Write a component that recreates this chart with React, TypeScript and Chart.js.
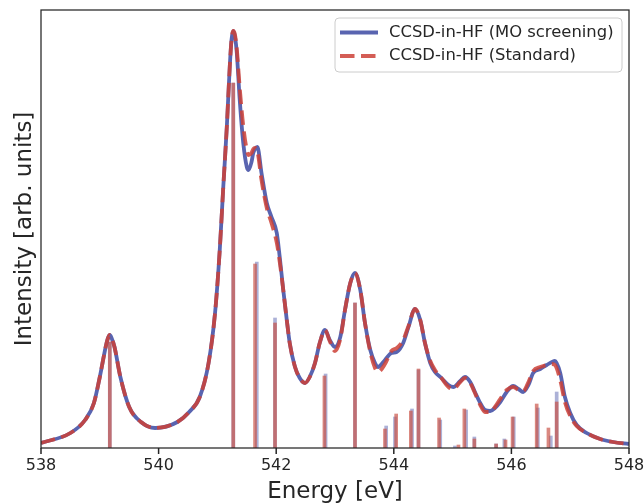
import React, { useEffect, useRef } from "react";
import { Chart, registerables } from "chart.js";

Chart.register(...registerables);

// ---- data ----
const energy = [
  538.0, 538.5, 538.75, 538.9, 539.0, 539.1, 539.14, 539.17, 539.2, 539.25, 539.35, 539.5, 539.7, 539.94,
  540.32, 540.52, 540.7, 540.85, 540.96, 541.04, 541.1, 541.16, 541.21, 541.24, 541.27, 541.3, 541.33,
  541.38, 541.44, 541.5, 541.53, 541.58, 541.61, 541.64, 541.68, 541.75, 541.84, 541.92,
  542.01, 542.06, 542.12, 542.18, 542.23, 542.32, 542.4, 542.49, 542.57, 542.66, 542.74,
  542.83, 542.91, 543.0, 543.09, 543.17, 543.26, 543.34, 543.43, 543.51, 543.6, 543.68,
  543.73, 543.85, 543.96, 544.05, 544.16, 544.25, 544.36, 544.45, 544.53, 544.62, 544.7,
  544.81, 544.93, 545.01, 545.13, 545.21, 545.3, 545.38, 545.47, 545.55, 545.64, 545.72,
  545.81, 545.92, 546.03, 546.12, 546.2, 546.29, 546.37, 546.49, 546.6, 546.69, 546.74,
  546.83, 546.91, 547.0, 547.11, 547.28, 547.51, 547.73, 548.0,
];

const moScreening = [
  5, 15, 28, 45, 71, 101, 110, 113, 110, 101, 71, 41, 26, 20,
  26, 36, 51, 85, 135, 198, 261, 321, 381, 408, 417, 411, 395,
  348, 305, 281, 278, 286, 295, 299, 301, 275, 245, 231,
  215, 191, 158, 128, 105, 81, 70, 65, 71, 85, 105,
  118, 108, 101, 111, 138, 165, 175, 158, 125, 98, 85,
  81, 88, 95, 96, 105, 121, 139, 128, 105, 85, 76,
  70, 63, 61, 67, 71, 66, 56, 45, 38, 37, 40,
  46, 56, 62, 59, 56, 63, 75, 79, 83, 86, 87,
  75, 51, 35, 23, 15, 9, 6, 4,
];

const standard = [
  5, 15, 28, 45, 71, 101, 110, 113, 110, 101, 71, 41, 26, 20,
  26, 36, 51, 85, 135, 198, 261, 321, 381, 408, 417, 413, 399,
  360, 322, 298, 293, 295, 299, 300, 297, 268, 240, 225,
  205, 186, 158, 128, 105, 81, 70, 65, 71, 85, 105,
  118, 107, 97, 109, 138, 165, 175, 158, 125, 96, 80,
  76, 84, 97, 100, 108, 122, 139, 128, 105, 87, 78,
  70, 61, 59, 66, 70, 65, 55, 43, 36, 36, 41,
  49, 58, 61, 58, 57, 66, 77, 81, 83, 84, 83,
  68, 46, 32, 22, 15, 9, 6, 4,
];

const moStickEnergy = [
  539.17, 541.27, 541.67, 541.98, 542.84, 543.34, 543.87, 544.02, 544.31, 544.42,
  544.79, 545.04, 545.23, 545.37, 545.74, 545.88, 546.04, 546.45, 546.67, 546.77,
];
const moStickIntensity = [
  106, 365, 186, 130, 74, 145, 22, 31, 39, 78,
  28, 2, 38, 11, 4, 9, 31, 40, 12, 56,
];

const stdStickEnergy = [
  539.17, 541.27, 541.64, 541.98, 542.82, 543.34, 543.85, 544.04, 544.29, 544.42,
  544.77, 545.1, 545.2, 545.37, 545.74, 545.9, 546.02, 546.43, 546.63, 546.77,
];
const stdStickIntensity = [
  106, 365, 184, 125, 72, 145, 19, 34, 37, 79,
  30, 3, 39, 9, 4, 8, 31, 44, 20, 46,
];

const xTicks = [538, 540, 542, 544, 546, 548];
const seriesLabels = ["CCSD-in-HF (MO screening)", "CCSD-in-HF (Standard)"];
const xTitle = "Energy [eV]";
const yTitle = "Intensity [arb. units]";

// ---- styles ----
const FONT = '"DejaVu Sans", sans-serif';
const TEXT = "#262626";
const BLUE = "rgba(89, 100, 176, 1)";
const RED = "rgba(205, 65, 55, 0.85)";
const BLUE_STICK = "rgba(89, 100, 176, 0.5)";
const RED_STICK = "rgba(200, 80, 68, 0.68)";
const LINE_W = 3.8;
const DASH = [14.5, 6.5];

const framePlugin = {
  id: "frameAndLegend",
  afterDraw(chart: any) {
    const { ctx, chartArea: a } = chart;
    ctx.save();
    ctx.setLineDash([]);
    ctx.strokeStyle = TEXT;
    ctx.lineWidth = 1.25;
    ctx.strokeRect(a.left, a.top, a.right - a.left, a.bottom - a.top);

    // x tick marks (outside, below the bottom spine)
    const xs = chart.scales.x;
    ctx.fillStyle = TEXT;
    for (const v of xTicks) {
      const px = xs.getPixelForValue(v);
      ctx.fillRect(px - 0.75, a.bottom, 1.5, 6);
    }

    // legend box
    const bx = 335, by = 18, bw = 287, bh = 54, r = 4;
    ctx.beginPath();
    ctx.moveTo(bx + r, by);
    ctx.lineTo(bx + bw - r, by);
    ctx.arcTo(bx + bw, by, bx + bw, by + r, r);
    ctx.lineTo(bx + bw, by + bh - r);
    ctx.arcTo(bx + bw, by + bh, bx + bw - r, by + bh, r);
    ctx.lineTo(bx + r, by + bh);
    ctx.arcTo(bx, by + bh, bx, by + bh - r, r);
    ctx.lineTo(bx, by + r);
    ctx.arcTo(bx, by, bx + r, by, r);
    ctx.closePath();
    ctx.fillStyle = "rgba(255,255,255,0.8)";
    ctx.fill();
    ctx.strokeStyle = "#cccccc";
    ctx.lineWidth = 1;
    ctx.stroke();

    const rows = [32.5, 56];
    const styles = [
      { color: BLUE, dash: [] as number[] },
      { color: RED, dash: DASH },
    ];
    rows.forEach((y, i) => {
      ctx.beginPath();
      ctx.setLineDash(styles[i].dash);
      ctx.lineCap = "butt";
      ctx.strokeStyle = styles[i].color;
      ctx.lineWidth = LINE_W;
      ctx.moveTo(340, y);
      ctx.lineTo(378, y);
      ctx.stroke();
      ctx.setLineDash([]);
      ctx.fillStyle = TEXT;
      ctx.font = `16.4px ${FONT}`;
      ctx.textBaseline = "middle";
      ctx.textAlign = "left";
      ctx.fillText(seriesLabels[i], 389, y);
    });
    ctx.restore();
  },
};

export default function App() {
  const ref = useRef<HTMLCanvasElement>(null);

  useEffect(() => {
    if (!ref.current) return;
    const toPts = (xs: number[], ys: number[]) => xs.map((x, i) => ({ x, y: ys[i] }));
    const chart = new Chart(ref.current, {
      type: "line",
      data: {
        datasets: [
          {
            type: "line",
            label: seriesLabels[0],
            data: toPts(energy, moScreening),
            borderColor: BLUE,
            borderWidth: LINE_W,
            pointRadius: 0,
            cubicInterpolationMode: "monotone",
            fill: false,
            order: 2,
          },
          {
            type: "line",
            label: seriesLabels[1],
            data: toPts(energy, standard),
            borderColor: RED,
            borderWidth: LINE_W,
            borderDash: DASH,
            borderCapStyle: "butt",
            pointRadius: 0,
            cubicInterpolationMode: "monotone",
            fill: false,
            order: 1,
          },
          {
            type: "bar",
            label: "MO sticks",
            data: toPts(moStickEnergy, moStickIntensity),
            backgroundColor: BLUE_STICK,
            borderWidth: 0,
            barThickness: 3,
            grouped: false,
            order: 4,
          },
          {
            type: "bar",
            label: "Std sticks",
            data: toPts(stdStickEnergy, stdStickIntensity),
            backgroundColor: RED_STICK,
            borderWidth: 0,
            barThickness: 3,
            grouped: false,
            order: 3,
          },
        ] as any,
      },
      options: {
        animation: false,
        responsive: false,
        devicePixelRatio: 1,
        layout: { padding: { left: 0, top: 10, right: 15, bottom: 0 } },
        plugins: {
          legend: { display: false },
          tooltip: { enabled: false },
        },
        scales: {
          x: {
            type: "linear",
            position: "bottom",
            min: 538,
            max: 548,
            offset: false,
            afterBuildTicks: (s: any) => {
              s.ticks = xTicks.map((v) => ({ value: v }));
            },
            afterFit: (s: any) => {
              s.height = 56;
              s.paddingLeft = 0;
              s.paddingRight = 0;
            },
            ticks: {
              font: { family: FONT, size: 16 },
              color: TEXT,
              padding: 8,
              maxRotation: 0,
            },
            grid: { display: false, drawTicks: false, offset: false },
            border: { display: false },
            title: {
              display: true,
              text: xTitle,
              color: TEXT,
              font: { family: FONT, size: 23, lineHeight: 1 },
              padding: { top: 0, bottom: 0 },
            },
          },
          y: {
            type: "linear",
            min: 0,
            max: 438,
            afterFit: (s: any) => {
              s.width = 41;
            },
            ticks: { display: false },
            grid: { display: false },
            border: { display: false },
            title: {
              display: true,
              text: yTitle,
              color: TEXT,
              font: { family: FONT, size: 23, lineHeight: 1.2 },
              padding: { top: 11.5, bottom: 0 },
            },
          },
        },
      } as any,
      plugins: [framePlugin],
    });
    return () => chart.destroy();
  }, []);

  return (
    <div style={{ position: "fixed", left: 0, top: 0, width: 644, height: 504, background: "#fff" }}>
      <canvas ref={ref} width={644} height={504} style={{ display: "block", width: 644, height: 504 }} />
    </div>
  );
}
